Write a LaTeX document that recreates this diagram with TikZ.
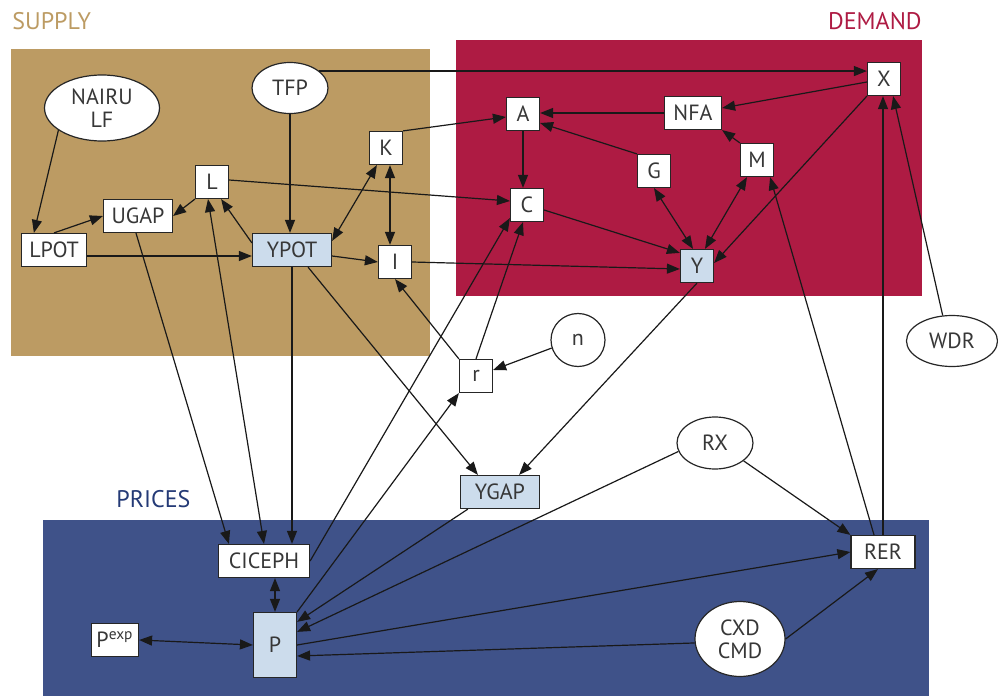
\documentclass[tikz,border=0pt]{standalone}
\usepackage{fontspec}
\setmainfont{PT Sans}
\usetikzlibrary{shapes.geometric,arrows.meta}
\definecolor{supplycol}{RGB}{188,155,99}
\definecolor{demandcol}{RGB}{174,27,67}
\definecolor{pricescol}{RGB}{63,82,137}
\definecolor{pricestext}{RGB}{36,58,118}
\definecolor{paleblue}{RGB}{204,220,236}
\definecolor{textgrey}{RGB}{55,55,55}
\begin{document}
\begin{tikzpicture}[x=0.5pt,y=-0.5pt,
	box/.style={shape=rectangle,draw=black!85,fill=white,line width=0.6pt,minimum width=16.5pt,minimum height=16.5pt,inner sep=0pt,text=textgrey,font=\fontsize{11}{12}\selectfont},
	bluebox/.style={box,fill=paleblue},
	oval/.style={shape=ellipse,draw=black!85,fill=white,line width=0.6pt,inner sep=0pt,align=center,text=textgrey,font=\fontsize{11}{11.5}\selectfont},
	region/.style={font=\fontsize{12}{14}\selectfont},
	arr/.style={-{Triangle[length=6.5pt,width=5pt]},line width=0.6pt,draw=black!90},
	arrs/.style={{Triangle[length=6.5pt,width=5pt]}-{Triangle[length=6.5pt,width=5pt]},line width=0.6pt,draw=black!90}]
	\useasboundingbox (0,0) rectangle (998,696);

	\fill[supplycol] (11,49) rectangle (430,356);
	\fill[demandcol] (456,40) rectangle (922,296);
	\fill[pricescol] (43,520) rectangle (929,696);
	\node[region,anchor=base west,text=supplycol,inner sep=0pt] (supplylbl) at (12,30) {SUPPLY};
	\node[region,anchor=base east,text=demandcol,inner sep=0pt] (demandlbl) at (922,30) {DEMAND};
	\node[region,anchor=base west,text=pricestext,inner sep=0pt] (priceslbl) at (116,507) {PRICES};

	\node[oval,minimum width=57.5pt,minimum height=33pt] (nairu) at (102,108) {NAIRU\\LF};
	\node[oval,minimum width=38pt,minimum height=25.5pt] (tfp) at (290,88) {TFP};
	\node[box] (k) at (386,148) {K};
	\node[box] (l) at (212,182) {L};
	\node[box,minimum width=34.5pt] (ugap) at (138,216) {UGAP};
	\node[box,minimum width=32.5pt] (lpot) at (54,250) {LPOT};
	\node[bluebox,minimum width=39.5pt] (ypot) at (292,250) {YPOT};
	\node[box] (i) at (395,262) {I};

	\node[box] (x) at (884,79) {X};
	\node[box,minimum width=28.5pt] (nfa) at (693,113) {NFA};
	\node[box] (a) at (523,114) {A};
	\node[box] (g) at (654,171) {G};
	\node[box] (m) at (757,160) {M};
	\node[box] (c) at (527,205) {C};
	\node[bluebox] (y) at (697,266) {Y};

	\node[oval,minimum width=27pt,minimum height=26.5pt] (n) at (578,340) {n};
	\node[box] (r) at (476,376) {r};
	\node[oval,minimum width=45.5pt,minimum height=25.5pt] (wdr) at (952,341) {WDR};
	\node[oval,minimum width=38pt,minimum height=26pt] (rx) at (715,443) {RX};
	\node[bluebox,minimum width=39.5pt] (ygap) at (500,492) {YGAP};

	\node[box,minimum width=45.5pt] (ciceph) at (264,561) {CICEPH};
	\node[box,minimum width=32pt] (rer) at (883,552) {RER};
	\node[bluebox,minimum width=21.5pt,minimum height=32.5pt] (p) at (275,645) {P};
	\node[box,minimum width=23.5pt] (pexp) at (115,640) {P\textsuperscript{exp}};
	\node[oval,minimum width=45pt,minimum height=37.5pt] (cxd) at (740,639) {CXD\\CMD};

	\draw[arr] (nairu.207) -- ([xshift=6.5pt]lpot.north west);
	\draw[arr] (lpot.north) -- (ugap.west);
	\draw[arr] ([yshift=-3pt]lpot.east) -- ([yshift=-3pt]ypot.west);
	\draw[arr] (l.south west) -- (ugap.east);
	\draw[arr] ([yshift=-5pt]ypot.north west) -- ([xshift=-4pt]l.south east);
	\draw[arr] (tfp.south) -- (tfp.south |- ypot.north);
	\draw[arr] (tfp.30) -- (tfp.30 -| x.west);
	\draw[arrs] ([xshift=4pt]k.south west) -- ([yshift=-4pt]ypot.north east);
	\draw[arrs] ([xshift=2pt]k.south) -- ([xshift=2pt]k.south |- i.north);
	\draw[arr] ([yshift=-3pt]ypot.east) -- (i.west);
	\draw[arr] (k.north east) -- ([yshift=-1.5pt]a.west);
	\draw[arr] ([yshift=1pt]l.east) -- ([yshift=2pt]c.west);
	\draw[arr] (i.east) -- ([yshift=-1.5pt]y.west);

	\draw[arr] (a.south) -- (a.south |- c.north);
	\draw[arr] (nfa.west) -- (nfa.west -| a.east);
	\draw[arr] (g.north west) -- ([yshift=-4.5pt]a.east);
	\draw[arr] (m.north west) -- (nfa.south east);
	\draw[arr] ([yshift=-1.5pt]x.west) -- ([yshift=2.5pt]nfa.east);
	\draw[arr] ([yshift=-2.5pt]c.east) -- ([yshift=-2pt]y.north west);
	\draw[arrs] (g.south) -- ([xshift=-2pt]y.north);
	\draw[arrs] ([xshift=-5pt]m.south) -- ([xshift=4pt]y.north);
	\draw[arr] (x.south west) -- ([yshift=1.5pt]y.east);

	\draw[arr] (y.south) -- ([xshift=-10.5pt]ygap.north east);
	\draw[arr] ([xshift=8pt]ypot.south) -- ([xshift=9pt]ygap.north west);
	\draw[arr] (ypot.south) -- (ypot.south |- ciceph.north);
	\draw[arr] ([xshift=-1pt]ugap.south) -- ([xshift=5.5pt]ciceph.north west);
	\draw[arrs] ([xshift=-2pt]l.south) -- (ciceph.north);
	\draw[arr] (ciceph.east) -- ([yshift=2pt]c.south west);
	\draw[arr] (r.north) -- ([xshift=-2pt]c.south);
	\draw[arr] (r.north west) -- (i.south);
	\draw[arr] (n.197) -- ([yshift=3pt]r.east);
	\draw[arr] (p.north east) -- (r.south west);

	\draw[arr] ([xshift=4pt]ygap.south west) -- ([yshift=-5pt]p.north east);
	\draw[arr] (rx.193) -- ([yshift=-10pt]p.north east);
	\draw[arr] (p.east) -- (rer.west);
	\draw[arr] (cxd.185) -- ([yshift=-5.5pt]p.east);
	\draw[arr] (cxd.east) -- ([xshift=-2.5pt]rer.south);
	\draw[arr] (rx.328) -- (rer.north west);
	\draw[arr] ([xshift=-4.5pt]rer.north) -- ([xshift=-2pt]m.south east);
	\draw[arr] (rer.north) -- (rer.north |- x.south);
	\draw[arr] (wdr.110) -- ([xshift=-4pt]x.south east);
	\draw[arrs] (p.north |- ciceph.south) -- (p.north);
	\draw[arrs] (pexp.east) -- (p.west);
\end{tikzpicture}
\end{document}
